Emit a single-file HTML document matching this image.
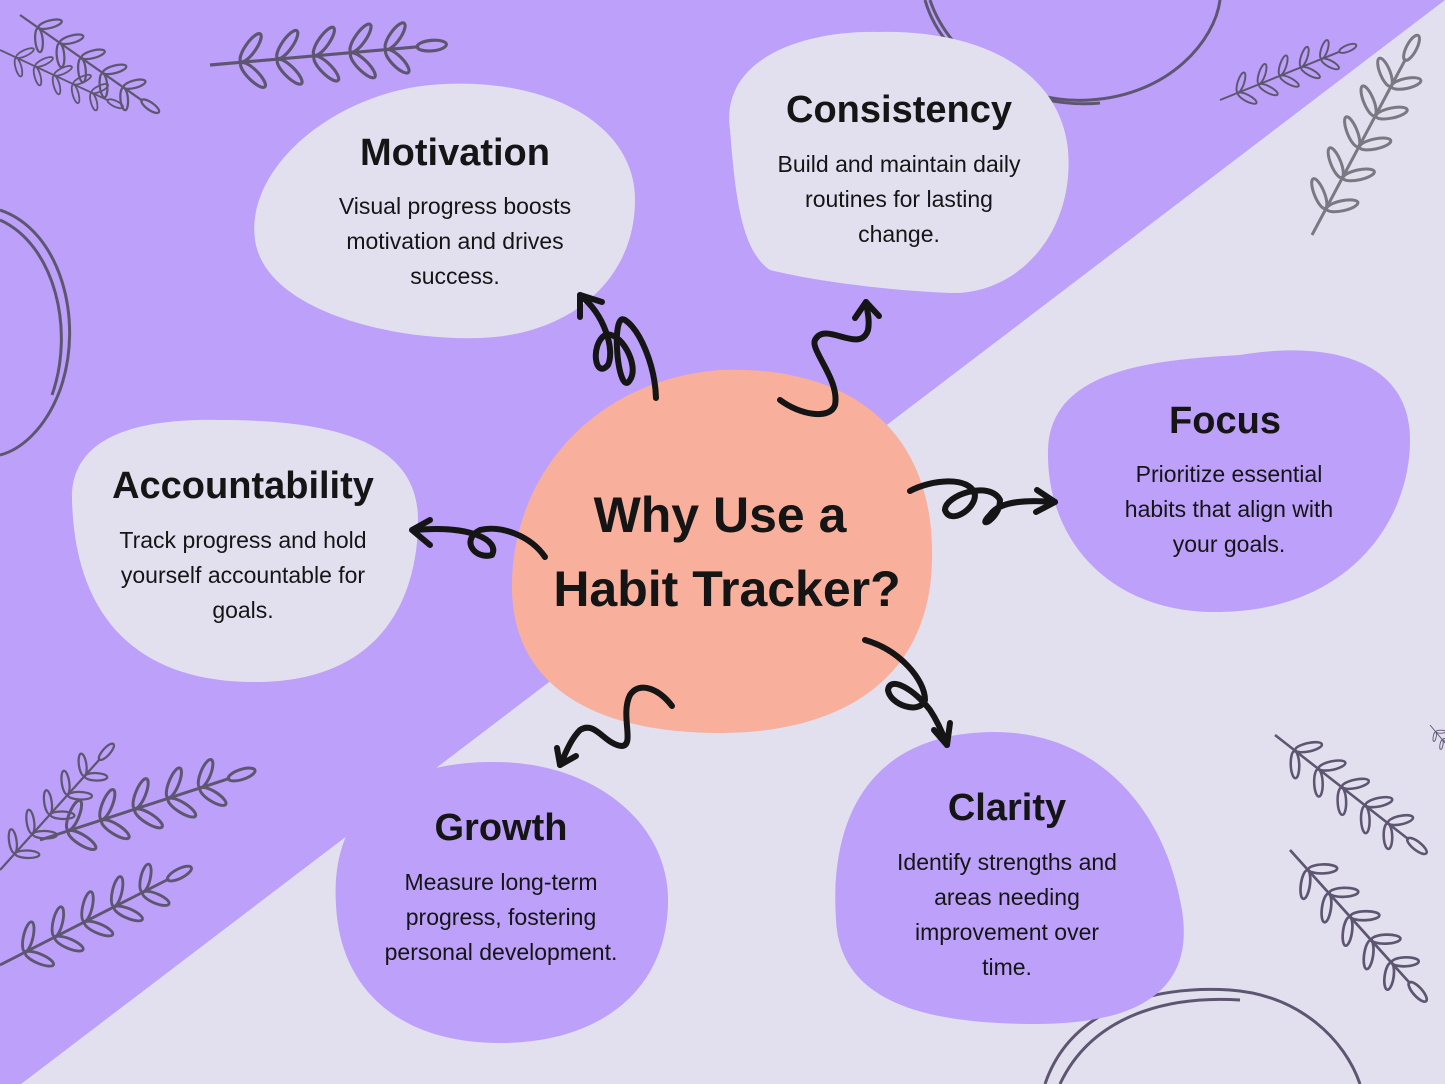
<!DOCTYPE html>
<html><head><meta charset="utf-8"><style>
html,body{margin:0;padding:0}
body{width:1445px;height:1084px;overflow:hidden;font-family:"Liberation Sans","DejaVu Sans",sans-serif}
svg{display:block}
svg text{font-family:"Liberation Sans","DejaVu Sans",sans-serif;fill:#151515;text-anchor:middle}
.h{font-size:38px;font-weight:bold}
.b{font-size:23px}
.t{font-size:50px;font-weight:bold}
</style></head><body>
<svg width="1445" height="1084" viewBox="0 0 1445 1084" xmlns="http://www.w3.org/2000/svg">
<defs>
<g id="sp" fill="none" stroke-width="3">
<path d="M0,0 L200,0"/>
<ellipse cx="40" cy="-13" rx="16" ry="5" transform="rotate(-50 40 -13)"/>
<ellipse cx="40" cy="13" rx="16" ry="5" transform="rotate(50 40 13)"/>
<ellipse cx="75" cy="-13" rx="16" ry="5" transform="rotate(-50 75 -13)"/>
<ellipse cx="75" cy="13" rx="16" ry="5" transform="rotate(50 75 13)"/>
<ellipse cx="110" cy="-13" rx="16" ry="5" transform="rotate(-50 110 -13)"/>
<ellipse cx="110" cy="13" rx="16" ry="5" transform="rotate(50 110 13)"/>
<ellipse cx="145" cy="-13" rx="16" ry="5" transform="rotate(-50 145 -13)"/>
<ellipse cx="145" cy="13" rx="16" ry="5" transform="rotate(50 145 13)"/>
<ellipse cx="178" cy="-12" rx="15" ry="5" transform="rotate(-50 178 -12)"/>
<ellipse cx="178" cy="12" rx="15" ry="5" transform="rotate(50 178 12)"/>
<ellipse cx="212" cy="0" rx="14" ry="5"/>
</g>
</defs>
<rect width="1445" height="1084" fill="#e2dfef"/>
<polygon points="0,0 1445,0 0,1100" fill="#bca0fa"/>
<g fill="none" stroke="#5e5670" stroke-width="3">
<path d="M930,0 C950,60 1020,105 1090,100 C1170,95 1215,40 1220,0"/>
<path d="M925,0 C945,70 1030,110 1100,103"/>
<path d="M0,210 C60,230 85,320 60,390 C45,430 20,450 0,455"/>
<path d="M0,220 C55,245 75,330 52,395"/>
<path d="M1045,1084 C1070,1010 1150,985 1230,990 C1300,995 1345,1040 1360,1084"/>
<path d="M1060,1084 C1090,1020 1160,995 1240,1000"/>
</g>
<g stroke="#5e5670">
<use href="#sp" transform="translate(210,65) rotate(-5) scale(1.05)"/>
<use href="#sp" transform="translate(20,15) rotate(35) scale(0.75)"/>
<use href="#sp" transform="translate(0,50) rotate(25) scale(0.6)"/>
<use href="#sp" transform="translate(1220,100) rotate(-22) scale(0.65)"/>
<use href="#sp" transform="translate(0,870) rotate(-48) scale(0.75)"/>
<use href="#sp" transform="translate(40,840) rotate(-18) scale(1.0)"/>
<use href="#sp" transform="translate(0,965) rotate(-27) scale(0.95)"/>
<use href="#sp" transform="translate(1275,735) rotate(38) scale(0.85)"/>
<use href="#sp" transform="translate(1290,850) rotate(48) scale(0.9)"/>
<use href="#sp" transform="translate(1430,725) rotate(50) scale(0.3)"/>
</g>
<g stroke="#7a7880">
<use href="#sp" transform="translate(1312,235) rotate(-62) scale(1.0)"/>
</g>
<!-- blobs -->
<path d="M255,240 C245,170 330,95 430,85 C540,75 635,120 635,200 C635,280 570,335 480,338 C390,341 265,310 255,240Z" fill="#e2dfef"/>
<path d="M730,130 C720,60 800,30 880,32 C980,30 1060,70 1068,150 C1075,230 1020,295 950,293 C880,290 810,280 770,270 C740,250 735,190 730,130Z" fill="#e2dfef"/>
<path d="M72,500 C70,440 130,418 220,420 C330,420 418,440 418,520 C418,600 380,680 260,682 C140,684 75,620 72,500Z" fill="#e2dfef"/>
<path d="M1048,450 C1050,370 1150,360 1240,355 C1330,340 1410,360 1410,440 C1410,520 1350,610 1220,612 C1110,614 1046,540 1048,450Z" fill="#bca0fa"/>
<path d="M836,920 C830,830 860,735 990,732 C1090,730 1160,800 1180,900 C1200,990 1140,1025 1030,1024 C920,1023 840,1000 836,920Z" fill="#bca0fa"/>
<path d="M336,905 C330,810 390,763 490,762 C590,760 668,820 668,900 C668,990 600,1043 500,1043 C400,1043 340,990 336,905Z" fill="#bca0fa"/>
<path d="M512,590 C510,480 590,380 720,370 C850,365 935,430 932,560 C930,680 840,733 720,733 C600,733 514,690 512,590Z" fill="#f8b09c"/>
<!-- text -->
<text class="h" x="455" y="165">Motivation</text>
<text class="b" x="455" y="214">Visual progress boosts</text>
<text class="b" x="455" y="249">motivation and drives</text>
<text class="b" x="455" y="284">success.</text>
<text class="h" x="899" y="122">Consistency</text>
<text class="b" x="899" y="172">Build and maintain daily</text>
<text class="b" x="899" y="207">routines for lasting</text>
<text class="b" x="899" y="242">change.</text>
<text class="h" x="243" y="498">Accountability</text>
<text class="b" x="243" y="548">Track progress and hold</text>
<text class="b" x="243" y="583">yourself accountable for</text>
<text class="b" x="243" y="618">goals.</text>
<text class="h" x="1225" y="433">Focus</text>
<text class="b" x="1229" y="482">Prioritize essential</text>
<text class="b" x="1229" y="517">habits that align with</text>
<text class="b" x="1229" y="552">your goals.</text>
<text class="h" x="1007" y="820">Clarity</text>
<text class="b" x="1007" y="870">Identify strengths and</text>
<text class="b" x="1007" y="905">areas needing</text>
<text class="b" x="1007" y="940">improvement over</text>
<text class="b" x="1007" y="975">time.</text>
<text class="h" x="501" y="840">Growth</text>
<text class="b" x="501" y="890">Measure long-term</text>
<text class="b" x="501" y="925">progress, fostering</text>
<text class="b" x="501" y="960">personal development.</text>
<text class="t" x="720" y="532">Why Use a</text>
<text class="t" x="727" y="606">Habit Tracker?</text>
<!-- arrows -->
<g fill="none" stroke="#151515" stroke-width="6" stroke-linecap="round" stroke-linejoin="round">
<path d="M656,398 C655,365 640,330 625,320 C610,310 618,400 630,380 C640,365 620,330 605,335 C590,345 595,380 608,365 C615,350 605,315 580,295"/>
<path d="M580,317 L580,295 L602,302"/>
<path d="M780,400 C800,415 830,420 835,405 C840,380 810,350 815,340 C825,320 860,355 868,330 C870,320 867,310 866,302"/>
<path d="M855,318 L866,302 L879,316"/>
<path d="M545,557 C530,535 500,525 480,530 C460,540 475,560 492,555 C500,540 470,525 415,530"/>
<path d="M430,520 L412,530 L430,545"/>
<path d="M910,491 C930,480 970,475 975,495 C975,510 950,525 945,510 C945,495 990,480 1000,500 C1000,520 975,530 990,515 C1000,500 1030,500 1055,502"/>
<path d="M1037,490 L1055,502 L1036,512"/>
<path d="M865,640 C900,650 925,680 925,700 C920,715 890,705 888,690 C890,675 915,690 930,710 C940,725 945,740 947,745"/>
<path d="M934,730 L947,745 L950,723"/>
<path d="M672,706 C660,690 640,680 630,695 C620,715 635,745 622,746 C605,745 595,720 580,730 C570,740 565,755 560,765"/>
<path d="M557,748 L560,765 L576,756"/>
</g>
</svg>
</body></html>
